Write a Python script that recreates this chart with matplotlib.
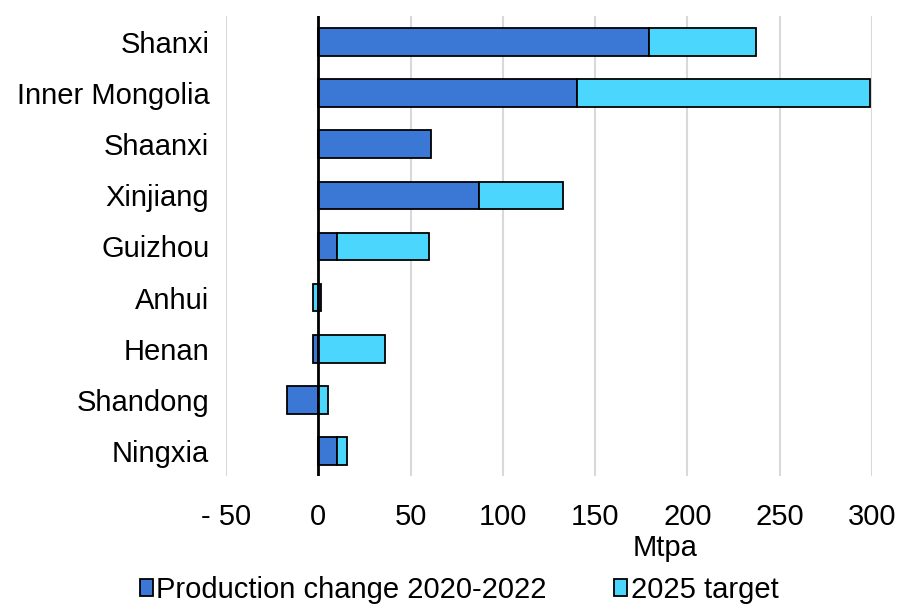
import matplotlib
matplotlib.use("Agg")
import matplotlib.pyplot as plt
import numpy as np
from matplotlib.patches import Patch

provinces = ["Shanxi", "Inner Mongolia", "Shaanxi", "Xinjiang", "Guizhou",
             "Anhui", "Henan", "Shandong", "Ningxia"]
production_change = [179, 140, 61, 87, 10, 1.5, -3, -17, 10]
target_2025 = [58, 159, 0, 45.5, 50, -3, 36, 5.5, 5.5]
x_ticks = [-50, 0, 50, 100, 150, 200, 250, 300]
x_tick_labels = ["- 50", "0", "50", "100", "150", "200", "250", "300"]

dark_blue = "#3b78d6"
cyan = "#4bd6fe"

plt.rcParams["font.family"] = ["Liberation Sans", "DejaVu Sans"]

fig = plt.figure(figsize=(9.04, 6.06), dpi=100)
ax = fig.add_axes([0.25, 0.2137, 0.7146, 0.7591])

y = np.arange(len(provinces))
prod = np.array(production_change, dtype=float)
targ = np.array(target_2025, dtype=float)
# excel-style stacking: same sign stacks on top, opposite sign starts at 0
targ_left = np.where(np.sign(prod) == np.sign(targ), prod, 0)

ax.barh(y, prod, height=0.54, color=dark_blue, edgecolor="black",
        linewidth=1.3, zorder=3)
ax.barh(y, targ, left=targ_left, height=0.54, color=cyan,
        edgecolor="black", linewidth=1.3, zorder=3)

ax.axvline(0, color="black", linewidth=2, zorder=4)

ax.set_xlim(-50, 300)
ax.set_ylim(len(provinces) - 0.5, -0.5)
ax.set_yticks(y)
ax.set_yticklabels(provinces, fontsize=21)
ax.set_xticks(x_ticks)
ax.set_xticklabels(x_tick_labels, fontsize=21)
ax.tick_params(axis="both", length=0)
ax.tick_params(axis="y", pad=12)
ax.tick_params(axis="x", pad=19)

ax.grid(axis="x", color="#d9d9d9", linewidth=1.5, zorder=0)
for s in ax.spines.values():
    s.set_visible(False)

ax.set_xlabel("Mtpa", fontsize=21)
ax.xaxis.set_label_coords(0.68, -0.125)

handles = [Patch(facecolor=dark_blue, edgecolor="black", linewidth=1.3),
           Patch(facecolor=cyan, edgecolor="black", linewidth=1.3)]
fig.legend(handles, ["Production change 2020-2022", "2025 target"],
           loc="center", bbox_to_anchor=(459 / 904, 1 - 590 / 606),
           ncol=2, frameon=False, fontsize=21, handlelength=0.45,
           handleheight=0.5, handletextpad=0.12, columnspacing=2.3)

fig.savefig("out.png", dpi=100)
